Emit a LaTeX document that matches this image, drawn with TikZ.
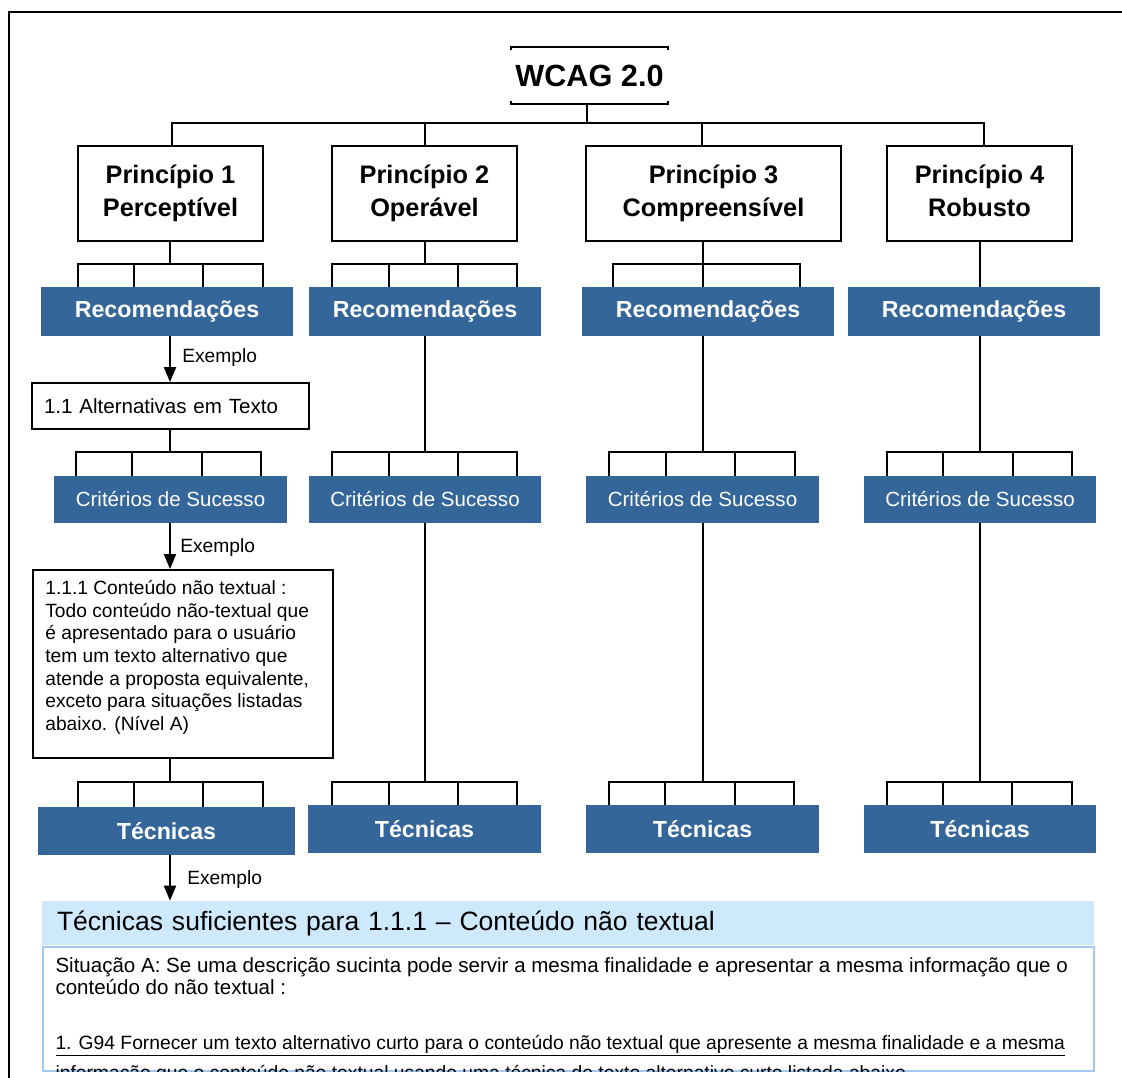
\documentclass[tikz,border=0pt]{standalone}
\usepackage{fontspec}
\setmainfont{Liberation Sans}
\usetikzlibrary{arrows.meta,calc}
\newlength\pxl
\setlength\pxl{0.75pt}
\definecolor{wcagblue}{RGB}{52,102,153}
\definecolor{hdrblue}{RGB}{206,233,251}
\definecolor{edgeblue}{RGB}{160,200,240}

% upper node, lower node, stem x, bar y, bar left x, bar right x, inner drop xs
\newcommand\treefork[7]{%
  \draw[conn] (#1.south -| #3,0) -- (#3,#4);
  \draw[conn] (#2.north -| #5,0) |- (#6,#4) -- (#2.north -| #6,0);
  \foreach \dx in {#7} {\draw[conn] (\dx,#4) -- (#2.north -| \dx,0);}
}

\tikzset{
  conn/.style={draw=black, line width=1.8\pxl},
  arr/.style={conn, -{Triangle[width=9pt,length=11.25pt]}},
  principle/.style={draw=black, line width=2\pxl, fill=white, inner sep=0,
    minimum height=95\pxl, align=center,
    font=\fontsize{19}{24.75}\selectfont\bfseries},
  recbox/.style={fill=wcagblue, text=white, inner sep=0, minimum height=49\pxl,
    font=\fontsize{17.4}{20}\selectfont\bfseries},
  critbox/.style={fill=wcagblue, text=white, inner sep=0, minimum height=47\pxl,
    font=\fontsize{15.4}{18}\selectfont},
  plainbox/.style={draw=black, line width=1.8\pxl, fill=white, inner sep=0},
  exlabel/.style={anchor=west, inner sep=0, font=\fontsize{14.4}{17}\selectfont},
  bodytext/.style={anchor=base west, inner sep=0, font=\fontsize{15.4}{19}\selectfont},
  linktext/.style={anchor=base west, inner sep=0, font=\fontsize{14.45}{18}\selectfont},
}

\begin{document}
\begin{tikzpicture}[x=0.75pt,y=-0.75pt]
\useasboundingbox (0,0) rectangle (1122,1078);
\clip (0,0) rectangle (1122,1078);

% outer frame
\draw[line width=2.5\pxl] (9,1100) -- (9,12) -- (1140,12);

% title
\node[inner sep=0, minimum width=157\pxl, minimum height=57\pxl,
  font=\fontsize{23}{26}\selectfont\bfseries] (wcag) at (589.5,75.5) {WCAG 2.0};
\draw[conn] ($(wcag.north west)+(0,3)$) -- (wcag.north west) -- (wcag.north east) -- ($(wcag.north east)+(0,3)$);
\draw[conn] ($(wcag.south west)+(0,-3)$) -- (wcag.south west) -- (wcag.south east) -- ($(wcag.south east)+(0,-3)$);

% principles
\node[principle, minimum width=185\pxl] (p1) at (170.5,193.5) {Princípio 1\\Perceptível};
\node[principle, minimum width=185\pxl] (p2) at (424.5,193.5) {Princípio 2\\Operável};
\node[principle, minimum width=255\pxl] (p3) at (713.5,193.5) {Princípio 3\\Compreensível};
\node[principle, minimum width=185\pxl] (p4) at (979.5,193.5) {Princípio 4\\Robusto\vphantom{p}};

\draw[conn] (wcag.south -| 587,0) -- (587,123);
\draw[conn] (p1.north -| 172,0) |- (984,123) -- (p4.north -| 984,0);
\draw[conn] (425,123) -- (p2.north -| 425,0);
\draw[conn] (702,123) -- (p3.north -| 702,0);

% recommendations
\node[recbox, minimum width=252\pxl] (r1) at (167,311.5) {Recomendações};
\node[recbox, minimum width=232\pxl] (r2) at (425,311.5) {Recomendações};
\node[recbox, minimum width=252\pxl] (r3) at (708,311.5) {Recomendações};
\node[recbox, minimum width=252\pxl] (r4) at (974,311.5) {Recomendações};

\treefork{p1}{r1}{170}{264}{78}{263}{134,203}
\treefork{p2}{r2}{425}{264}{332}{517}{389,458}
\treefork{p3}{r3}{703}{264}{613}{800}{703}
\draw[conn] (p4.south -| 980,0) -- (r4.north -| 980,0);

% guideline example
\node[plainbox, minimum width=277\pxl, minimum height=46\pxl, text width=253\pxl,
  inner xsep=12\pxl, align=left, font=\fontsize{15.4}{18}\selectfont] (e1) at (170.5,406)
  {1.1 Alternativas em Texto};
\draw[arr] (r1.south -| 170,0) -- (e1.north -| 170,0);
\node[exlabel] (x1) at (182,358) {Exemplo};

% success criteria
\node[critbox, minimum width=233\pxl] (c1) at (170.5,499.5) {Critérios de Sucesso};
\node[critbox, minimum width=232\pxl] (c2) at (425,499.5) {Critérios de Sucesso};
\node[critbox, minimum width=233\pxl] (c3) at (702.5,499.5) {Critérios de Sucesso};
\node[critbox, minimum width=232\pxl] (c4) at (980,499.5) {Critérios de Sucesso};

\treefork{e1}{c1}{170}{452}{76}{261}{132,202}
\treefork{r2}{c2}{425}{452}{332}{517}{389,458}
\treefork{r3}{c3}{703}{452}{609}{795}{666,735}
\treefork{r4}{c4}{980}{452}{887}{1072}{943,1013}

% success criterion example
\node[plainbox, minimum width=300\pxl, minimum height=188\pxl] (e2) at (183,664) {};
\node[anchor=north west, inner sep=0, align=left, font=\fontsize{14.4}{17}\selectfont]
  (e2txt) at ($(e2.north west)+(13,11)$)
  {1.1.1 Conteúdo não textual :\\
   Todo conteúdo não-textual que\\
   é apresentado para o usuário\\
   tem um texto alternativo que\\
   atende a proposta equivalente,\\
   exceto para situações listadas\\
   abaixo. (Nível A)};
\draw[arr] (c1.south -| 170,0) -- (e2.north -| 170,0);
\node[exlabel] (x2) at (180,548) {Exemplo};

% techniques
\node[recbox, minimum width=257\pxl, minimum height=48\pxl] (t1) at (166.5,831) {Técnicas};
\node[recbox, minimum width=233\pxl, minimum height=48\pxl] (t2) at (424.5,829) {Técnicas};
\node[recbox, minimum width=233\pxl, minimum height=48\pxl] (t3) at (702.5,829) {Técnicas};
\node[recbox, minimum width=232\pxl, minimum height=48\pxl] (t4) at (980,829) {Técnicas};

\treefork{e2}{t1}{170}{782}{78}{263}{134,203}
\treefork{c2}{t2}{425}{782}{332}{517}{389,458}
\treefork{c3}{t3}{703}{782}{609}{794}{665,735}
\treefork{c4}{t4}{980}{782}{887}{1072}{943,1012}

% sufficient techniques panel
\node[fill=hdrblue, inner sep=0, inner xsep=15\pxl, minimum width=1052\pxl, minimum height=44\pxl,
  text width=1022\pxl, align=left, font=\fontsize{19.9}{24}\selectfont] (hdr) at (568,923)
  {Técnicas suficientes para 1.1.1 – Conteúdo não textual};
\draw[arr] (t1.south -| 170,0) -- (hdr.north -| 170,0);
\node[exlabel] (x3) at (187,880) {Exemplo};

\node[draw=edgeblue, line width=1.5\pxl, fill=white, inner sep=0,
  minimum width=1051\pxl, minimum height=124\pxl] (body) at (568.5,1009) {};
\begin{scope}
  \clip (body.north west) rectangle (body.south east);
  \node[bodytext] (s1) at ($(body.north west)+(13,26)$)
    {Situação A: Se uma descrição sucinta pode servir a mesma finalidade e apresentar a mesma informação que o};
  \node[bodytext] (s2) at ($(body.north west)+(13,48)$) {conteúdo do não textual :};
  \node[linktext] (s3) at ($(body.north west)+(13,103)$)
    {\underline{1. G94 Fornecer um texto alternativo curto para o conteúdo não textual que apresente a mesma finalidade e a mesma}};
  \node[linktext] (s4) at ($(body.north west)+(13,133)$)
    {\underline{informação que o conteúdo não textual usando uma técnica de texto alternativo curto listada abaixo}};
\end{scope}
\end{tikzpicture}
\end{document}
